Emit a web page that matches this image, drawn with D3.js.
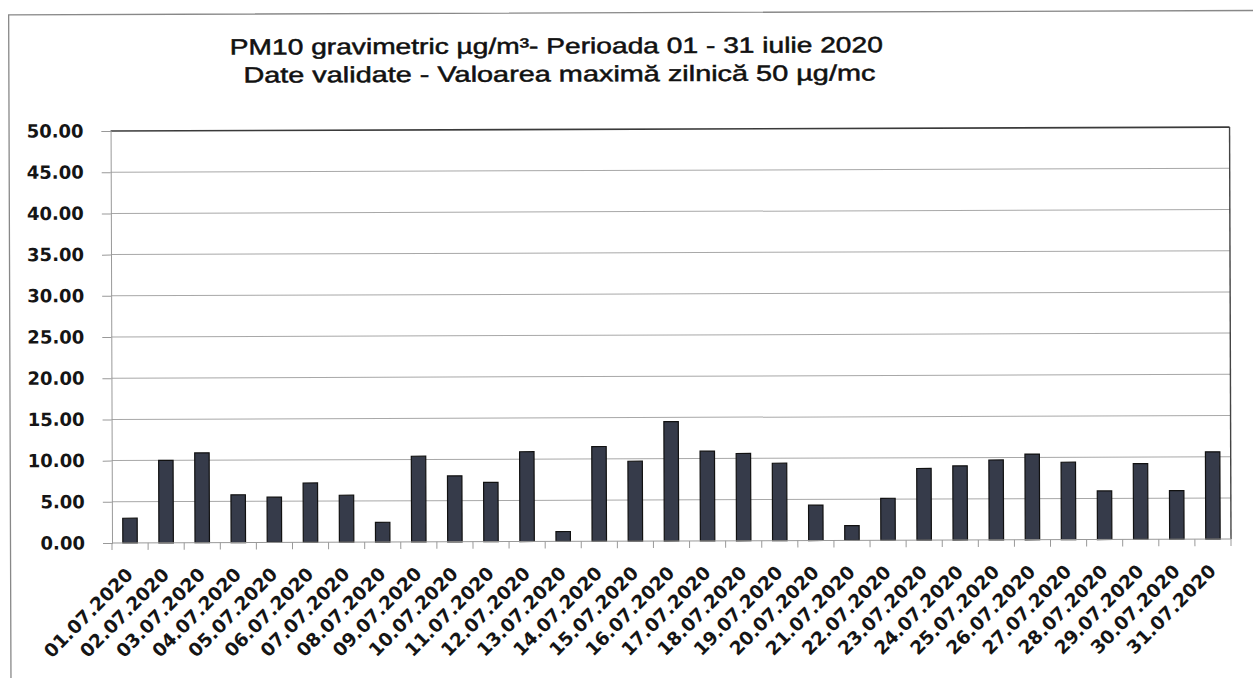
<!DOCTYPE html>
<html><head><meta charset="utf-8">
<script src="https://cdn.jsdelivr.net/npm/d3@7"></script>
<style>html,body{margin:0;padding:0;background:#fff;}svg{display:block;}</style>
</head><body>
<svg id="chart" width="1253" height="678"></svg>
<script>
const categories = ["01.07.2020","02.07.2020","03.07.2020","04.07.2020","05.07.2020","06.07.2020","07.07.2020","08.07.2020","09.07.2020","10.07.2020","11.07.2020","12.07.2020","13.07.2020","14.07.2020","15.07.2020","16.07.2020","17.07.2020","18.07.2020","19.07.2020","20.07.2020","21.07.2020","22.07.2020","23.07.2020","24.07.2020","25.07.2020","26.07.2020","27.07.2020","28.07.2020","29.07.2020","30.07.2020","31.07.2020"];
const values = [3.0,10.0,10.9,5.8,5.5,7.2,5.7,2.4,10.4,8.0,7.2,10.9,1.2,11.5,9.7,14.5,10.9,10.6,9.4,4.3,1.8,5.1,8.7,9.0,9.7,10.4,9.4,5.9,9.2,5.9,10.6];
const yTicks = [0,5,10,15,20,25,30,35,40,45,50];
const titleLines = ["PM10 gravimetric µg/m³- Perioada 01 - 31 iulie 2020","Date validate -  Valoarea maximă zilnică 50 µg/mc"];

const root = d3.select("#chart").append("g").attr("transform","rotate(-0.2,112,543)");
const L = 112, R = 1231, T = 131, B = 543;
const tickFont = "DejaVu Sans, Verdana, sans-serif";

// outer chart border
root.append("rect").attr("x",10.5).attr("y",14.5).attr("width",1270).attr("height",720)
  .attr("fill","#fff").attr("stroke","#888").attr("stroke-width",1.3);

const x = d3.scaleBand().domain(categories).range([L,R]).paddingInner(0.6).paddingOuter(0.3);
const xb = d3.scaleBand().domain(categories).range([L,R]);
const y = d3.scaleLinear().domain([0,50]).range([B,T]);

// gridlines
root.append("g").selectAll("line").data(yTicks.filter(d=>d>0)).join("line")
  .attr("x1",L).attr("x2",R).attr("y1",d=>y(d)).attr("y2",d=>y(d))
  .attr("stroke",d=>d===50?"#3a3a3a":"#a8a8a8").attr("stroke-width",d=>d===50?1.6:1);

// right border
root.append("line").attr("x1",R).attr("x2",R).attr("y1",T).attr("y2",B).attr("stroke","#444").attr("stroke-width",1.4);

// bars
root.append("g").selectAll("rect").data(values).join("rect")
  .attr("x",(d,i)=>x(categories[i])).attr("width",x.bandwidth())
  .attr("y",d=>y(d)).attr("height",d=>B-y(d))
  .attr("fill","#363b4a").attr("stroke","#111").attr("stroke-width",1.2);

// y axis
const yAxis = d3.axisLeft(y).tickValues(yTicks).tickFormat(d3.format(".2f")).tickSize(9).tickPadding(18);
const gy = root.append("g").attr("transform",`translate(${L},0)`).call(yAxis);
gy.select(".domain").attr("stroke","#999");
gy.selectAll(".tick line").attr("stroke","#999");
gy.selectAll("text").attr("font-family",tickFont).attr("font-weight","bold")
  .attr("font-size",18).attr("fill","#151515");

// x axis
const gx = root.append("g").attr("transform",`translate(0,${B})`);
gx.append("line").attr("x1",L).attr("x2",R).attr("y1",0).attr("y2",0).attr("stroke","#999");
gx.selectAll(".tk").data(d3.range(categories.length+1)).join("line")
  .attr("x1",i=>L+i*xb.step()).attr("x2",i=>L+i*xb.step()).attr("y1",0).attr("y2",7).attr("stroke","#999");
gx.selectAll("text").data(categories).join("text")
  .attr("transform",d=>`translate(${xb(d)+xb.bandwidth()/2+4},33) rotate(-45)`)
  .attr("text-anchor","end")
  .attr("font-family",tickFont).attr("font-weight","bold")
  .attr("font-size",18.5).attr("fill","#151515").text(d=>d);

// title
root.append("g").selectAll("text").data(titleLines).join("text")
  .attr("x",(d,i)=>i===0?558:561).attr("y",(d,i)=>i===0?55:83)
  .attr("text-anchor","middle").attr("font-family","Liberation Sans, Arial, sans-serif")
  .attr("font-size",22).attr("fill","#111").attr("stroke","#111").attr("stroke-width",0.5)
  .attr("textLength",(d,i)=>i===0?653:632).attr("lengthAdjust","spacingAndGlyphs")
  .text(d=>d);
</script>
</body></html>
